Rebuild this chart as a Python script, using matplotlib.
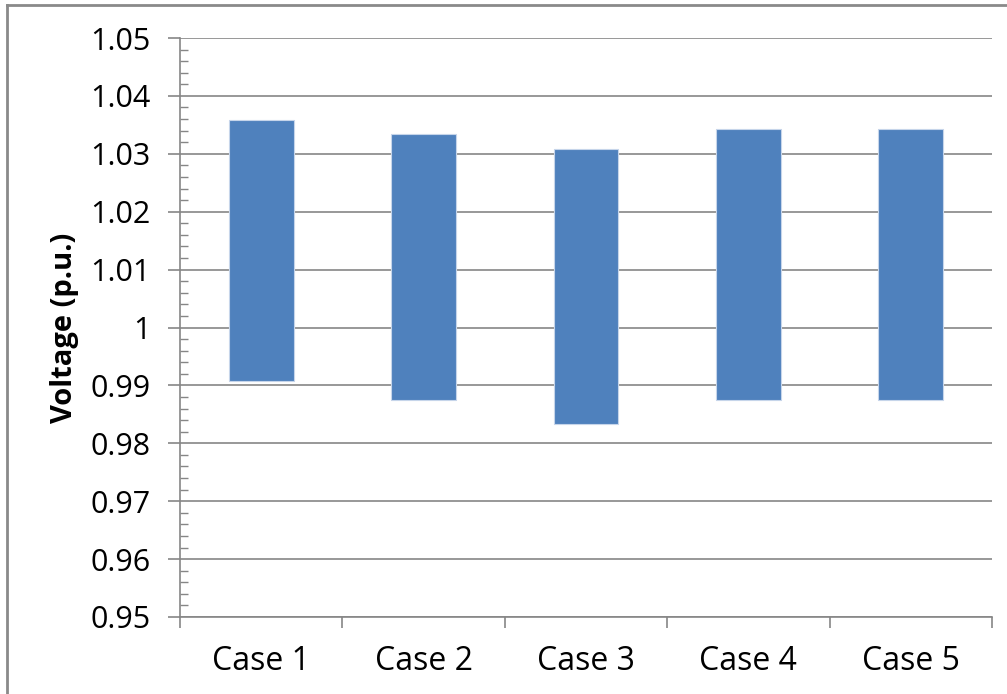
import matplotlib.pyplot as plt
from matplotlib.lines import Line2D
from matplotlib.ticker import MultipleLocator, FuncFormatter

plt.rcParams['font.family'] = ['Open Sans', 'DejaVu Sans']

cases = ['Case 1', 'Case 2', 'Case 3', 'Case 4', 'Case 5']
v_min = [0.9908, 0.9875, 0.9834, 0.9875, 0.9875]
v_max = [1.0358, 1.0334, 1.0309, 1.0342, 1.0342]

grey = '#868686'

fig = plt.figure(figsize=(10.07, 6.94), dpi=100)
ax = fig.add_axes([180 / 1007, 1 - 617 / 694, 812 / 1007, 579 / 694])

x = range(len(cases))
heights = [hi - lo for lo, hi in zip(v_min, v_max)]
ax.bar(x, heights, bottom=v_min, width=0.4, color='#4F81BD',
       edgecolor='#c6d5ea', linewidth=0.8, zorder=3)

ax.set_ylim(0.95, 1.05)
ax.set_xlim(-0.5, len(cases) - 0.5)
ax.yaxis.set_major_locator(MultipleLocator(0.01))
ax.yaxis.set_minor_locator(MultipleLocator(0.002))
ax.yaxis.set_major_formatter(FuncFormatter(lambda v, p: '%g' % round(v, 3)))
ax.grid(axis='y', which='major', color=grey, linewidth=1.2, zorder=0)

# category boundaries as x ticks
ax.set_xticks([i - 0.5 for i in range(len(cases) + 1)], minor=False)
ax.set_xticklabels([])
ax.set_xticks(list(x), minor=True)
ax.set_xticklabels(cases, minor=True)
ax.tick_params(axis='x', which='major', direction='out', length=8,
               color=grey, width=1.2)
ax.tick_params(axis='x', which='minor', length=0, pad=20, labelsize=23)
ax.tick_params(axis='y', which='major', direction='out', length=9,
               color=grey, width=1.2, pad=12, labelsize=22)
ax.tick_params(axis='y', which='minor', direction='in', length=6,
               color=grey, width=1.0)

for s in ['top', 'right']:
    ax.spines[s].set_visible(False)
for s in ['left', 'bottom']:
    ax.spines[s].set_color(grey)
    ax.spines[s].set_linewidth(1.2)

ax.set_ylabel('Voltage (p.u.)', fontsize=21, fontweight='bold', labelpad=8)

# outer chart border
fig.add_artist(Line2D([7 / 1007, 1], [1 - 5 / 694, 1 - 5 / 694],
                      transform=fig.transFigure, color='#8a8a8a', linewidth=2))
fig.add_artist(Line2D([7 / 1007, 7 / 1007], [0, 1 - 5 / 694],
                      transform=fig.transFigure, color='#8a8a8a', linewidth=2))

fig.savefig('out.png', dpi=100)
